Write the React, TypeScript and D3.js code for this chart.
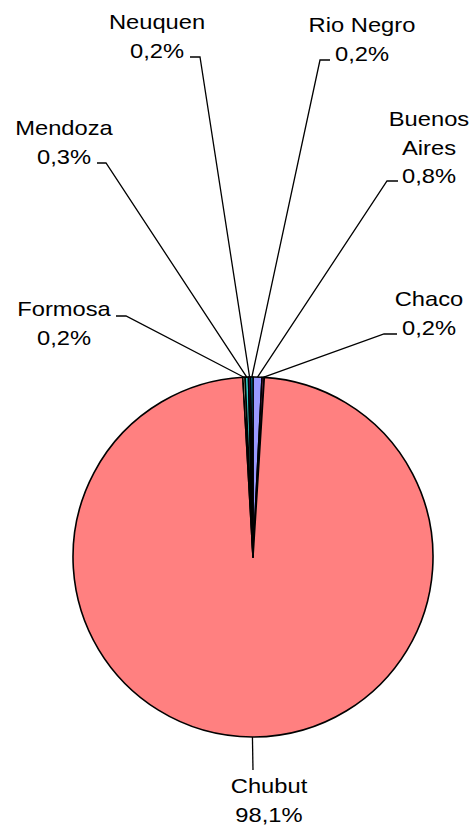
import { arc, pie, scaleOrdinal } from "d3";

const provinces = ["Buenos Aires", "Chaco", "Chubut", "Formosa", "Mendoza", "Neuquen", "Rio Negro"];
const shares = [0.8, 0.2, 98.1, 0.2, 0.3, 0.2, 0.2];
const sliceColors = ["#9999FF", "#993366", "#FF8080", "#FFFFCC", "#33CCCC", "#660066", "#00CCFF"];

// label placement: text lines centre x, first baseline, and where the leader elbow sits
const labelLayout: Record<string, { x: number; y: number; ex: number; ey: number; hx: number }> = {
  "Buenos Aires": { x: 429, y: 126, ex: 387, ey: 181, hx: 398 },
  Chaco: { x: 429, y: 306, ex: 384, ey: 334, hx: 397 },
  Chubut: { x: 269, y: 793, ex: 253, ey: 770, hx: 253 },
  Formosa: { x: 64, y: 316, ex: 126, ey: 316, hx: 116 },
  Mendoza: { x: 64, y: 135, ex: 106, ey: 163, hx: 97 },
  Neuquen: { x: 157, y: 29, ex: 200, ey: 57, hx: 190 },
  "Rio Negro": { x: 362, y: 32, ex: 320, ey: 60, hx: 330 }
};

function formatShare(v: number) {
  return `${v.toFixed(1).replace(".", ",")}%`;
}

export default function App() {
  const width = 476;
  const height = 830;
  const cx = 253;
  const cy = 557;
  const radius = 180;

  const color = scaleOrdinal<string, string>().domain(provinces).range(sliceColors);
  const slices = pie<number>().sort(null).value((d) => d)(shares);
  const sliceArc = arc<any>().innerRadius(0).outerRadius(radius);
  const edgeArc = arc<any>().innerRadius(radius).outerRadius(radius);

  return (
    <svg width={width} height={height} style={{ position: "absolute", left: 0, top: 0 }} fontFamily="'Liberation Sans', Arial, sans-serif">
      <rect width={width} height={height} fill="#fff" />
      <g transform={`translate(${cx}, ${cy})`}>
        {slices.map((s, i) => (
          <path key={provinces[i]} d={sliceArc(s) ?? ""} fill={color(provinces[i])} stroke="#000" strokeWidth="1.6" strokeLinejoin="round" />
        ))}
      </g>

      {slices.map((s, i) => {
        const name = provinces[i];
        const L = labelLayout[name];
        const [px, py] = edgeArc.centroid(s);
        const lines = name === "Buenos Aires" ? ["Buenos", "Aires", formatShare(shares[i])] : [name, formatShare(shares[i])];
        const leader =
          name === "Chubut"
            ? `M ${cx + px} ${cy + py} L ${L.ex} ${L.ey}`
            : `M ${L.hx} ${L.ey} L ${L.ex} ${L.ey} L ${cx + px} ${cy + py}`;
        return (
          <g key={name}>
            <path d={leader} fill="none" stroke="#000" strokeWidth="1.3" />
            {lines.map((t, j) => (
              <text
                key={j}
                transform={`translate(${L.x}, ${L.y + j * 28.5}) scale(1.13, 1)`}
                textAnchor="middle"
                fontSize="21"
                fill="#000"
              >
                {t}
              </text>
            ))}
          </g>
        );
      })}
    </svg>
  );
}
